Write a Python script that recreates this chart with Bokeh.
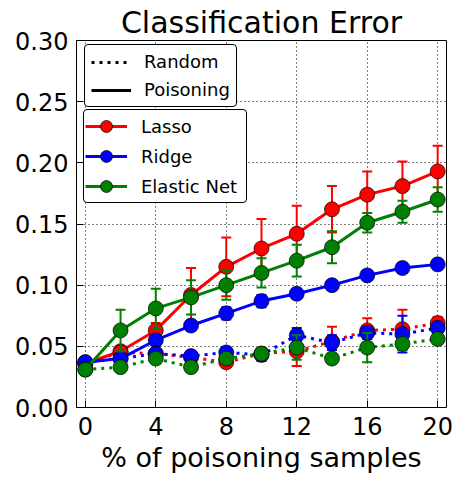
from bokeh.plotting import figure
from bokeh.models import (Range1d, FixedTicker, PrintfTickFormatter, Legend, LegendItem,
                          ColumnDataSource)
from bokeh.embed import file_html
from bokeh.resources import INLINE

x_vals = [0, 2, 4, 6, 8, 10, 12, 14, 16, 18, 20]

lasso_p = [0.036, 0.046, 0.063, 0.092, 0.115, 0.130, 0.142, 0.162, 0.174, 0.181, 0.193]
lasso_p_err = [0.002, 0.004, 0.006, 0.022, 0.024, 0.024, 0.023, 0.019, 0.019, 0.020, 0.021]
ridge_p = [0.037, 0.040, 0.055, 0.067, 0.077, 0.087, 0.093, 0.100, 0.108, 0.114, 0.117]
ridge_p_err = [0.002, 0.003, 0.004, 0.004, 0.005, 0.005, 0.004, 0.003, 0.003, 0.004, 0.003]
elastic_p = [0.031, 0.063, 0.081, 0.090, 0.100, 0.110, 0.120, 0.131, 0.151, 0.160, 0.170]
elastic_p_err = [0.002, 0.017, 0.016, 0.014, 0.012, 0.012, 0.013, 0.013, 0.008, 0.009, 0.010]

lasso_r = [0.036, 0.045, 0.044, 0.041, 0.037, 0.044, 0.046, 0.054, 0.063, 0.064, 0.069]
lasso_r_err = [0.002, 0.005, 0.007, 0.005, 0.004, 0.004, 0.012, 0.012, 0.010, 0.016, 0.005]
ridge_r = [0.037, 0.040, 0.044, 0.042, 0.045, 0.043, 0.059, 0.053, 0.061, 0.060, 0.065]
ridge_r_err = [0.002, 0.003, 0.004, 0.004, 0.004, 0.005, 0.006, 0.006, 0.005, 0.015, 0.005]
elastic_r = [0.031, 0.033, 0.040, 0.033, 0.040, 0.044, 0.049, 0.040, 0.049, 0.052, 0.056]
elastic_r_err = [0.002, 0.003, 0.004, 0.004, 0.004, 0.004, 0.010, 0.003, 0.012, 0.005, 0.004]

models = ["Lasso", "Ridge", "Elastic Net"]
colors = ["#ff0000", "#0000ff", "#008000"]
x_ticks = [0, 4, 8, 12, 16, 20]
y_ticks = [0.00, 0.05, 0.10, 0.15, 0.20, 0.25, 0.30]

FONT = "DejaVu Sans"
NAN = float("nan")

p = figure(width=458, height=477, output_backend="svg", toolbar_location=None,
           x_range=Range1d(-0.5, 20.5), y_range=Range1d(0, 0.30),
           min_border_left=76, min_border_right=12, min_border_top=40, min_border_bottom=70,
           title="Classification Error")
p.title.text_font = FONT
p.title.text_font_size = "30px"
p.title.text_font_style = "normal"
p.title.align = "center"
p.title.text_color = "black"
p.title.standoff = 2
p.title.offset = 0

p.outline_line_color = "black"
p.outline_line_alpha = 1
p.outline_line_width = 1
p.background_fill_color = "white"
p.border_fill_color = "white"

x_axis = p.below[0]
y_axis = p.left[0]
for ax in (x_axis, y_axis):
    ax.axis_line_color = None
    ax.major_tick_in = 7
    ax.major_tick_out = 0
    ax.minor_tick_in = 0
    ax.minor_tick_out = 0
    ax.major_tick_line_color = "black"
    ax.major_label_text_font = FONT
    ax.major_label_text_color = "black"
    ax.major_label_text_font_size = "24px"

x_axis.ticker = FixedTicker(ticks=x_ticks)
y_axis.ticker = FixedTicker(ticks=y_ticks)
y_axis.formatter = PrintfTickFormatter(format="%.2f")
x_axis.major_label_standoff = 9
y_axis.major_label_standoff = 8
x_axis.axis_label = "% of poisoning samples"
x_axis.axis_label_text_font = FONT
x_axis.axis_label_text_font_size = "27px"
x_axis.axis_label_text_font_style = "normal"
x_axis.axis_label_text_color = "black"
x_axis.axis_label_standoff = 4

for g in (p.xgrid[0], p.ygrid[0]):
    g.grid_line_color = "black"
    g.grid_line_width = 1
    g.grid_line_dash = "1 3"
    g.grid_line_alpha = 1

series = [
    (lasso_p, lasso_p_err, lasso_r, lasso_r_err),
    (ridge_p, ridge_p_err, ridge_r, ridge_r_err),
    (elastic_p, elastic_p_err, elastic_r, elastic_r_err),
]

model_items = []
for name, color, (yp, ep, yr, er) in zip(models, colors, series):
    rend_line = None
    rend_mark = None
    for ys, es, dash in ((yp, ep, "solid"), (yr, er, "3 5")):
        src = ColumnDataSource(dict(
            x=x_vals, y=ys,
            lo=[a - b for a, b in zip(ys, es)],
            hi=[a + b for a, b in zip(ys, es)],
        ))
        ln = p.line("x", "y", source=src, line_color=color, line_width=3, line_dash=dash)
        p.segment(x0="x", y0="lo", x1="x", y1="hi", source=src, line_color=color, line_width=2)
        p.scatter("x", "lo", source=src, marker="dash", size=10, line_color=color, line_width=2)
        p.scatter("x", "hi", source=src, marker="dash", size=10, line_color=color, line_width=2)
        mk = p.scatter("x", "y", source=src, marker="circle", size=15,
                       fill_color=color, line_color="black", line_width=0.7)
        if dash == "solid":
            rend_line, rend_mark = ln, mk
    model_items.append(LegendItem(label=name, renderers=[rend_line, rend_mark]))

dummy_r = p.line(x=[NAN], y=[NAN], line_color="black", line_width=3, line_dash="3 5")
dummy_p = p.line(x=[NAN], y=[NAN], line_color="black", line_width=3)

def style_legend(lg):
    lg.label_text_font = FONT
    lg.label_text_font_size = "18px"
    lg.label_text_color = "black"
    lg.label_height = 20
    lg.label_standoff = 13
    lg.margin = 0
    lg.border_line_color = "black"
    lg.border_line_width = 1
    lg.border_line_alpha = 1
    lg.background_fill_color = "white"
    lg.background_fill_alpha = 1
    if "border_radius" in lg.properties():
        lg.border_radius = 4

leg1 = Legend(items=[LegendItem(label="Random", renderers=[dummy_r]),
                     LegendItem(label="Poisoning", renderers=[dummy_p])],
              location=(8, 300))
style_legend(leg1)
leg1.glyph_width = 40
leg1.glyph_height = 20
leg1.spacing = 7
leg1.padding = 6

leg2 = Legend(items=model_items, location=(7, 204))
style_legend(leg2)
leg2.glyph_width = 42
leg2.glyph_height = 30
leg2.spacing = 0
leg2.padding = 1
leg2.label_standoff = 14
leg2.label_width = 104
p.add_layout(leg1, "center")
p.add_layout(leg2, "center")

open("out.html", "w").write(file_html(p, INLINE))
